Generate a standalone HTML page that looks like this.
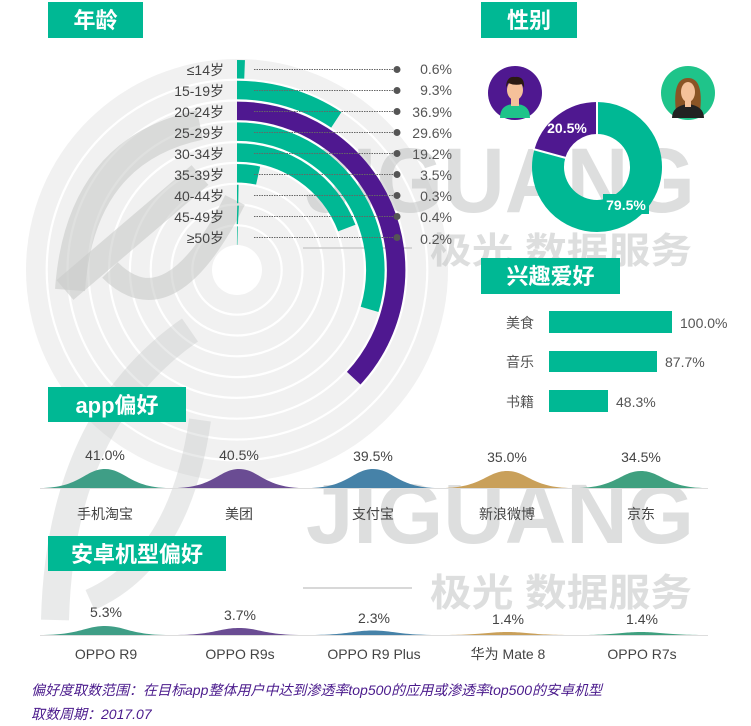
<!DOCTYPE html>
<html><head><meta charset="utf-8"><style>
html,body{margin:0;padding:0;background:#fff;}
body{width:751px;height:726px;overflow:hidden;position:relative;font-family:"Liberation Sans","Noto Sans CJK SC",sans-serif;}
svg{position:absolute;left:0;top:0;}
</style></head><body>
<svg width="751" height="726" viewBox="0 0 751 726" font-family="Liberation Sans, Noto Sans CJK SC, sans-serif">
<circle cx="237" cy="270" r="211" fill="#f1f1f1"/>
<g fill="none" stroke="#fff" stroke-width="2.2">
<circle cx="237" cy="270" r="190.3"/><circle cx="237" cy="270" r="169.5"/><circle cx="237" cy="270" r="148.7"/>
<circle cx="237" cy="270" r="127.9"/><circle cx="237" cy="270" r="107.1"/><circle cx="237" cy="270" r="86.3"/>
<circle cx="237" cy="270" r="65.5"/><circle cx="237" cy="270" r="44.7"/>
</g>
<circle cx="237" cy="270" r="25" fill="#fff"/>
<g fill="none" stroke="#c9cbca" stroke-opacity="0.6" stroke-linecap="butt">
<path d="M70 290 Q80 150 200 125" stroke-width="30"/>
<path d="M65 290 L200 175" stroke-width="26"/>
<path d="M110 270 Q170 330 235 200" stroke-width="22"/>
<path d="M55 620 Q60 420 190 330" stroke-width="28" stroke-opacity="0.4"/>
<path d="M90 600 Q180 560 200 420" stroke-width="22" stroke-opacity="0.4"/>
</g>
<g fill="#bcbebd" fill-opacity="0.5" font-weight="bold">
<text x="305" y="212" font-size="92" textLength="390" lengthAdjust="spacingAndGlyphs">JIGUANG</text>
<text x="430" y="263" font-size="36" textLength="262" lengthAdjust="spacingAndGlyphs">极光 数据服务</text>
<text x="306" y="543" font-size="84" textLength="388" lengthAdjust="spacingAndGlyphs">JIGUANG</text>
<text x="430" y="606" font-size="38" textLength="262" lengthAdjust="spacingAndGlyphs">极光 数据服务</text>
</g>
<line x1="303" y1="588" x2="412" y2="588" stroke="#ccc" stroke-width="1.5"/>
<line x1="303" y1="248" x2="412" y2="248" stroke="#ccc" stroke-width="1.5"/>
<g fill="none" stroke-width="18.5" stroke="#00b894">
<path d="M237 69.25 A200.75 200.75 0 0 1 244.6 69.4"/>
<path d="M237 90.05 A179.95 179.95 0 0 1 336.3 119.9"/>
<path d="M237 110.85 A159.15 159.15 0 0 1 353.7 378.2" stroke="#4f1890"/>
<path d="M237 131.65 A138.35 138.35 0 0 1 369.6 309.4"/>
<path d="M237 152.45 A117.55 117.55 0 0 1 346.8 228.1"/>
<path d="M237 173.25 A96.75 96.75 0 0 1 258.1 175.6"/>
<path d="M237 194.05 A75.95 75.95 0 0 1 238.4 194.06"/>
<path d="M237 214.85 A55.15 55.15 0 0 1 238.4 214.9"/>
<path d="M237 235.65 A34.35 34.35 0 0 1 237.6 235.66"/>
</g>
<g font-size="14" fill="#444" text-anchor="end">
<text x="224" y="75">≤14岁</text><text x="224" y="96">15-19岁</text><text x="224" y="117">20-24岁</text>
<text x="224" y="138">25-29岁</text><text x="224" y="159">30-34岁</text><text x="224" y="180">35-39岁</text>
<text x="224" y="201">40-44岁</text><text x="224" y="222">45-49岁</text><text x="224" y="243">≥50岁</text>
</g>
<g stroke="#666" stroke-width="1" stroke-dasharray="1.5,1">
<line x1="254" y1="69.5" x2="397" y2="69.5"/><line x1="254" y1="90.5" x2="397" y2="90.5"/><line x1="254" y1="111.5" x2="397" y2="111.5"/>
<line x1="254" y1="132.5" x2="397" y2="132.5"/><line x1="254" y1="153.5" x2="397" y2="153.5"/><line x1="254" y1="174.5" x2="397" y2="174.5"/>
<line x1="254" y1="195.5" x2="397" y2="195.5"/><line x1="254" y1="216.5" x2="397" y2="216.5"/><line x1="254" y1="237.5" x2="397" y2="237.5"/>
</g>
<g fill="#555">
<circle cx="397" cy="69.5" r="3.5"/><circle cx="397" cy="90.5" r="3.5"/><circle cx="397" cy="111.5" r="3.5"/>
<circle cx="397" cy="132.5" r="3.5"/><circle cx="397" cy="153.5" r="3.5"/><circle cx="397" cy="174.5" r="3.5"/>
<circle cx="397" cy="195.5" r="3.5"/><circle cx="397" cy="216.5" r="3.5"/><circle cx="397" cy="237.5" r="3.5"/>
</g>
<g font-size="14" fill="#555" text-anchor="end">
<text x="452" y="74">0.6%</text><text x="452" y="95">9.3%</text><text x="452" y="117">36.9%</text>
<text x="452" y="138">29.6%</text><text x="452" y="159">19.2%</text><text x="452" y="180">3.5%</text>
<text x="452" y="201">0.3%</text><text x="452" y="222">0.4%</text><text x="452" y="244">0.2%</text>
</g>
<g fill="#00b894"><rect x="48" y="2" width="95" height="36"/><rect x="481" y="2" width="96" height="36"/>
<rect x="481" y="258" width="139" height="36"/><rect x="48" y="387" width="138" height="35"/><rect x="48" y="536" width="178" height="35"/></g>
<g fill="#fff" font-size="22" font-weight="bold" text-anchor="middle">
<text x="95.5" y="28">年龄</text><text x="529" y="28">性别</text><text x="550.5" y="284">兴趣爱好</text>
<text x="117" y="413">app偏好</text><text x="137" y="562">安卓机型偏好</text>
</g>
<g fill="none" stroke-width="32">
<path d="M597 118 A49 49 0 1 1 549.95 153.33" stroke="#00b894"/>
<path d="M549.95 153.33 A49 49 0 0 1 597 118" stroke="#4f1890"/>
</g>
<line x1="597" y1="101" x2="597" y2="135" stroke="#fff" stroke-width="2"/>
<line x1="533" y1="149" x2="566" y2="158" stroke="#fff" stroke-width="2"/>
<rect x="603" y="194" width="46" height="20" fill="#00b894"/>
<g fill="#fff" font-size="14" font-weight="bold" text-anchor="middle">
<text x="567" y="133">20.5%</text><text x="626" y="210">79.5%</text></g>
<circle cx="515" cy="93" r="27" fill="#4f1890"/>
<path d="M500 118 Q500 104 515 104 Q530 104 530 118 Z" fill="#1fc48a"/>
<rect x="511" y="97" width="8" height="9" fill="#f5c19a"/>
<ellipse cx="515" cy="90" rx="8" ry="10" fill="#f5c19a"/>
<path d="M506 88 Q506 76 515 77 Q525 76 524 88 L522 84 Q515 86 508 83 Z" fill="#2b1a12"/>
<circle cx="688" cy="93" r="27" fill="#1fc48a"/>
<path d="M676 112 Q672 78 688 78 Q704 78 700 112 Z" fill="#8a5425"/>
<path d="M672 118 Q672 106 688 104 Q704 106 704 118 Z" fill="#222"/>
<ellipse cx="688" cy="92" rx="7" ry="10" fill="#f5c19a"/>
<rect x="685" y="100" width="6" height="7" fill="#f5c19a"/>
<g fill="#00b894"><rect x="549" y="311" width="123" height="22"/><rect x="549" y="351" width="108" height="21"/><rect x="549" y="390" width="59" height="22"/></g>
<g font-size="14" fill="#555"><text x="506" y="328">美食</text><text x="506" y="367">音乐</text><text x="506" y="407">书籍</text>
<text x="680" y="328">100.0%</text><text x="665" y="367">87.7%</text><text x="616" y="407">48.3%</text></g>
<line x1="40" y1="488.5" x2="708" y2="488.5" stroke="#ddd" stroke-width="1"/>
<g>
<path d="M40 488 C80 488 85 469 105 469 C125 469 130 488 170 488 Z" fill="#3f9e86"/>
<path d="M174 488 C214 488 219 469 239 469 C259 469 264 488 304 488 Z" fill="#6a4c93"/>
<path d="M308 488 C348 488 353 469 373 469 C393 469 398 488 438 488 Z" fill="#4682a8"/>
<path d="M442 488 C482 488 487 471 507 471 C527 471 532 488 572 488 Z" fill="#c9a05a"/>
<path d="M576 488 C616 488 621 471 641 471 C661 471 666 488 706 488 Z" fill="#3fa07f"/>
</g>
<g font-size="14" fill="#444" text-anchor="middle">
<text x="105" y="460">41.0%</text><text x="239" y="460">40.5%</text><text x="373" y="461">39.5%</text><text x="507" y="462">35.0%</text><text x="641" y="462">34.5%</text>
<text x="105" y="519">手机淘宝</text><text x="239" y="519">美团</text><text x="373" y="519">支付宝</text><text x="507" y="519">新浪微博</text><text x="641" y="519">京东</text>
</g>
<line x1="40" y1="635.5" x2="708" y2="635.5" stroke="#ddd" stroke-width="1"/>
<g>
<path d="M40 635 C80 635 85 626 105 626 C125 626 130 635 170 635 Z" fill="#3f9e86"/>
<path d="M174 635 C214 635 219 628 239 628 C259 628 264 635 304 635 Z" fill="#6a4c93"/>
<path d="M308 635 C348 635 353 630.5 373 630.5 C393 630.5 398 635 438 635 Z" fill="#4682a8"/>
<path d="M442 635 C482 635 487 632 507 632 C527 632 532 635 572 635 Z" fill="#c9a05a"/>
<path d="M576 635 C616 635 621 632 641 632 C661 632 666 635 706 635 Z" fill="#3fa07f"/>
</g>
<g font-size="14" fill="#444" text-anchor="middle">
<text x="106" y="617">5.3%</text><text x="240" y="620">3.7%</text><text x="374" y="623">2.3%</text><text x="508" y="624">1.4%</text><text x="642" y="624">1.4%</text>
<text x="106" y="659">OPPO R9</text><text x="240" y="659">OPPO R9s</text><text x="374" y="659">OPPO R9 Plus</text><text x="508" y="659">华为 Mate 8</text><text x="642" y="659">OPPO R7s</text>
</g>
<g font-size="14" fill="#4a1a8c" font-style="italic">
<text x="31" y="695">偏好度取数范围：在目标app整体用户中达到渗透率top500的应用或渗透率top500的安卓机型</text>
<text x="31" y="719">取数周期：2017.07</text>
</g>
</svg>
</body></html>
